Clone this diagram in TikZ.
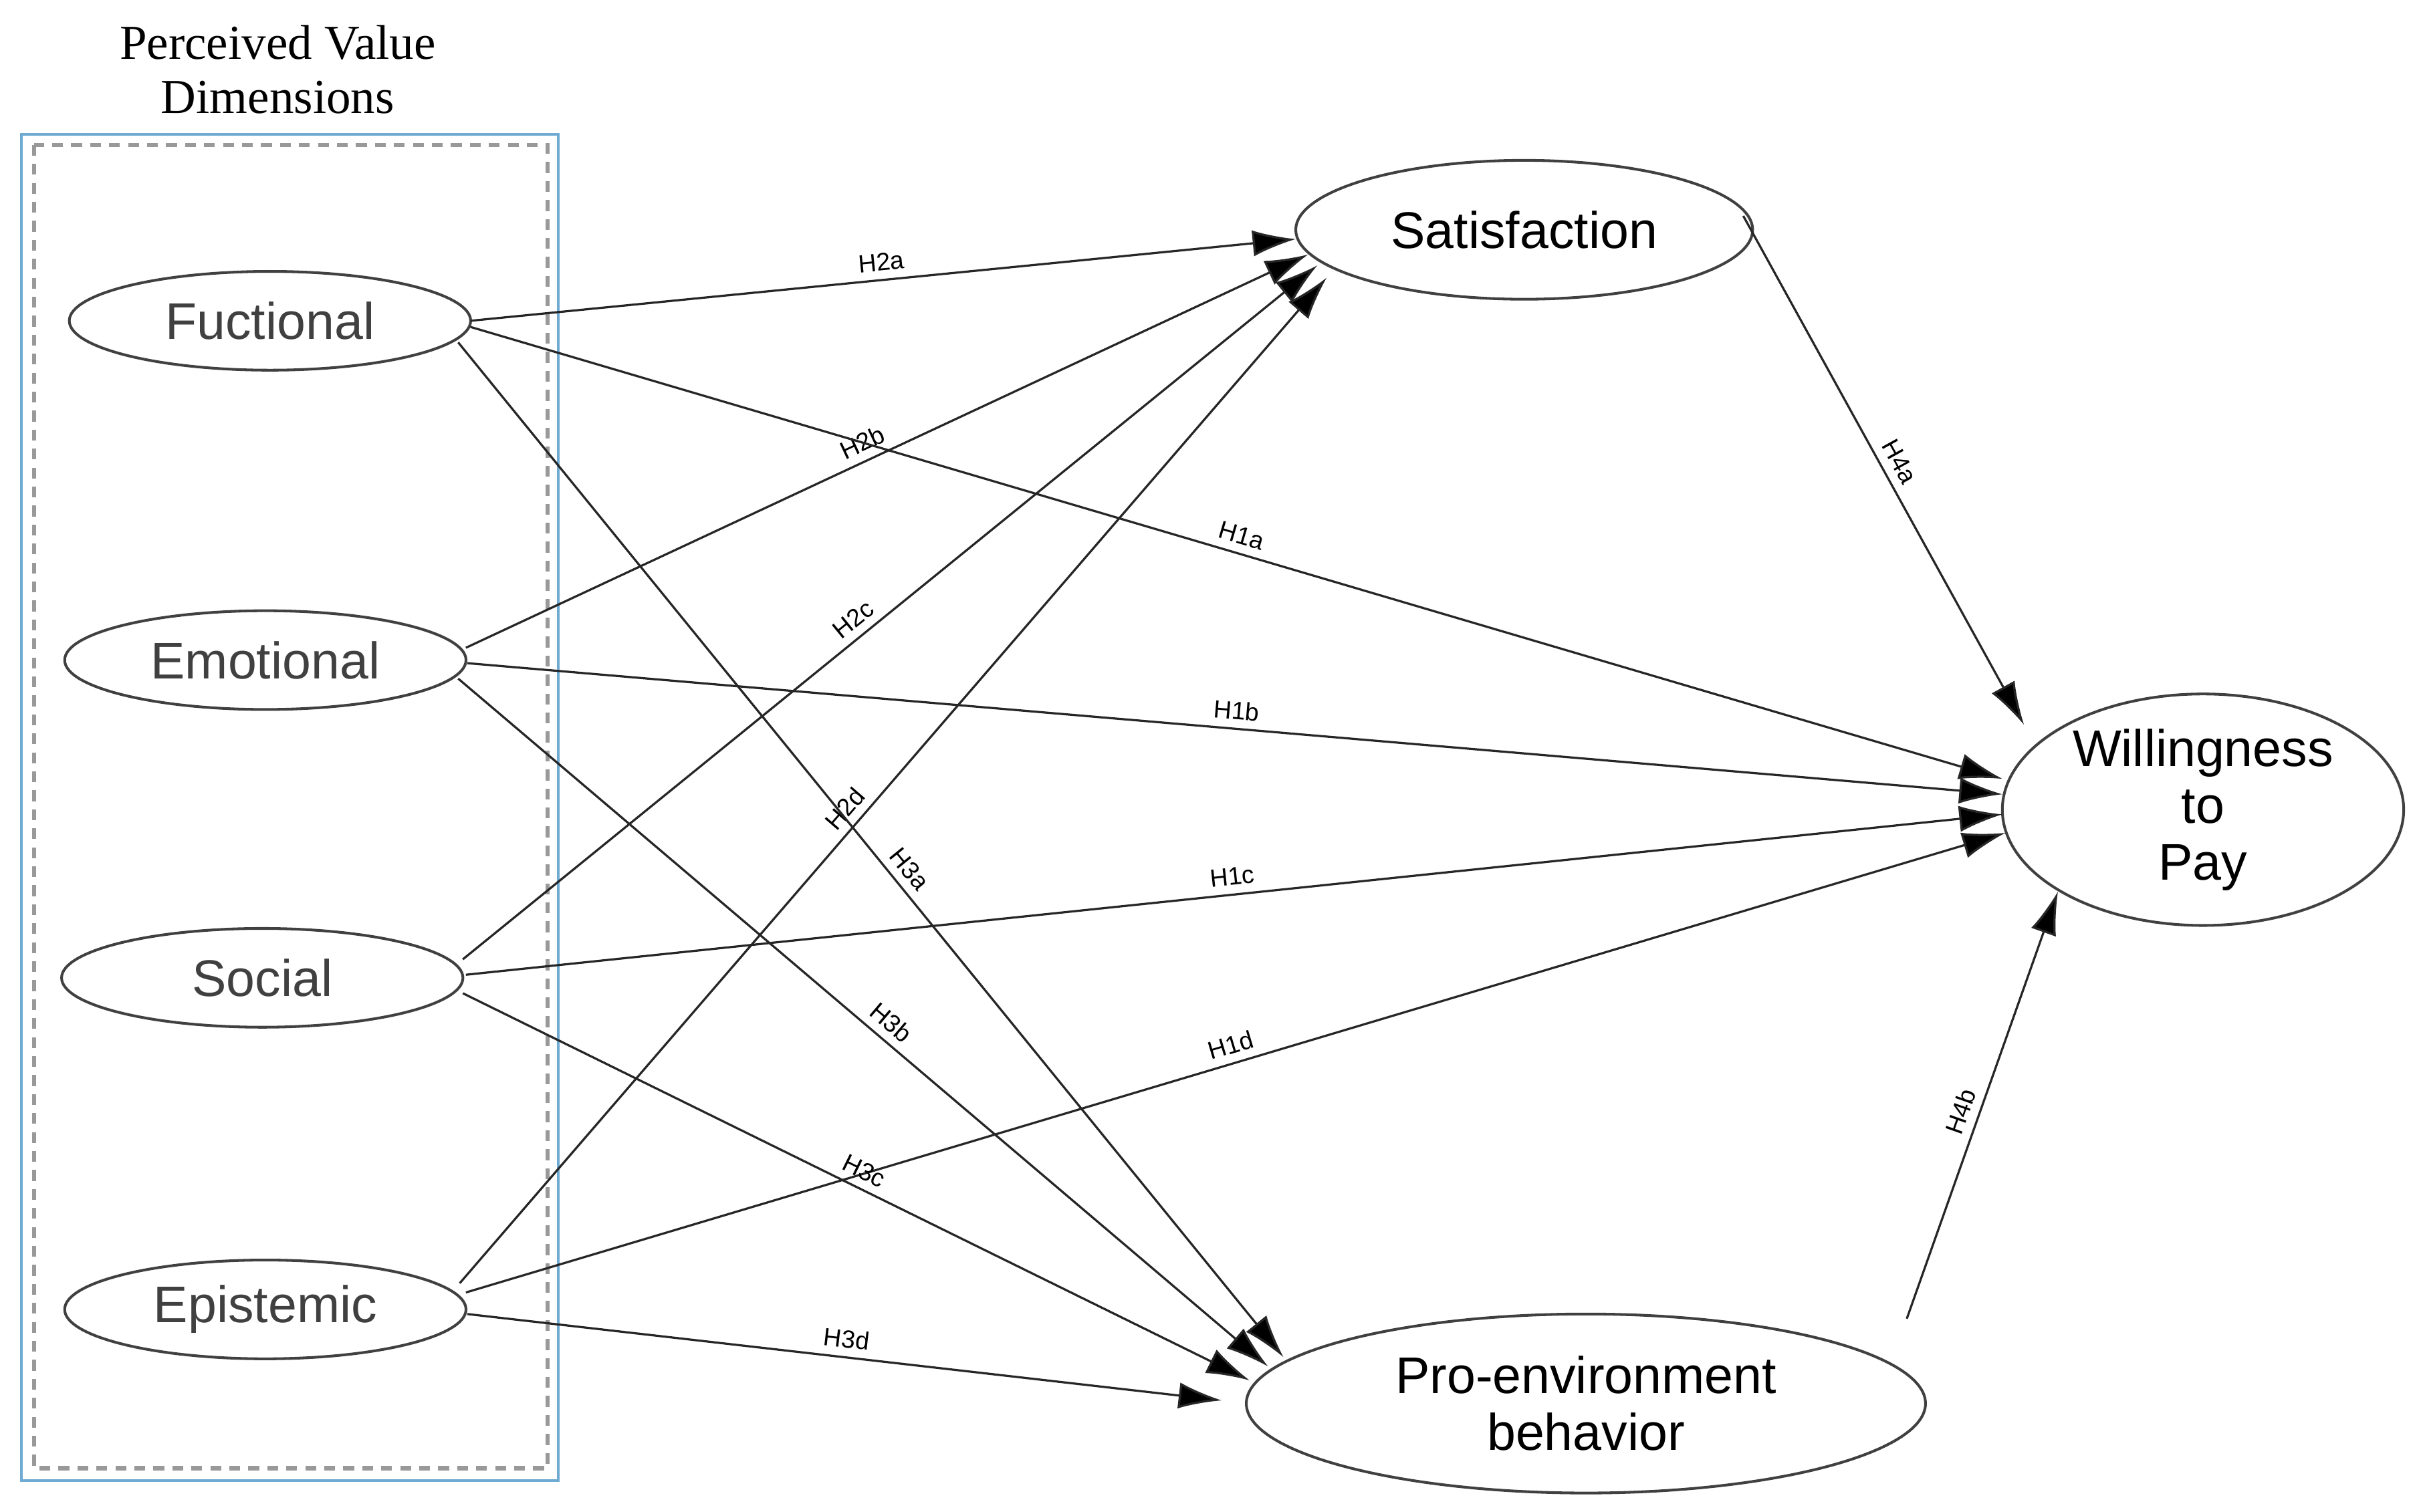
\documentclass[tikz,border=0pt]{standalone}
\usepackage{fontspec}
\setmainfont{Liberation Sans}
\newfontfamily\titlefont{Liberation Serif}
\usetikzlibrary{arrows.meta,shapes.geometric}
\begin{document}
\begin{tikzpicture}[x=0.01cm,y=-0.01cm,
  ell/.style={draw=black!75,line width=0.5pt,ellipse,inner sep=0pt,font=\fontsize{9.5}{11}\selectfont,text=black!75},
  con/.style={draw=black!85,line width=0.4pt,-{Latex[length=2.8mm,width=1.7mm,fill=black]}},
  lab/.style={font=\fontsize{4.6}{5}\selectfont,sloped,above,inner sep=1.5pt}]
\useasboundingbox (0,0) rectangle (1568,980);
\node[font=\titlefont\fontsize{9}{10}\selectfont,align=center] (title) at (180,45) {Perceived Value\\Dimensions};
\draw[draw={rgb,255:red,110;green,170;blue,210},line width=0.5pt] (14,87) rectangle (362,960);
\draw[draw=black!40,line width=0.8pt,dash pattern=on 2pt off 1.5pt] (22,94) rectangle (355,952);
\node[ell,minimum width=2.6cm,minimum height=0.64cm] (f) at (175,208) {Fuctional};
\node[ell,minimum width=2.6cm,minimum height=0.64cm] (e) at (172,428) {Emotional};
\node[ell,minimum width=2.6cm,minimum height=0.64cm] (s) at (170,634) {Social};
\node[ell,minimum width=2.6cm,minimum height=0.64cm] (p) at (172,849) {Epistemic};
\node[ell,text=black,minimum width=2.96cm,minimum height=0.9cm] (sat) at (988,149) {Satisfaction};
\node[ell,text=black,align=center,minimum width=2.6cm,minimum height=1.5cm,font=\fontsize{9.5}{10.5}\selectfont] (w) at (1428,525) {Willingness\\to\\Pay};
\node[ell,text=black,align=center,minimum width=4.4cm,minimum height=1.16cm,font=\fontsize{9.5}{10.5}\selectfont] (pro) at (1028,910) {Pro-environment\\behavior};
\coordinate (f1) at (305,208); \coordinate (f2) at (305,212); \coordinate (f3) at (297,222);
\coordinate (e1) at (302,420); \coordinate (e2) at (303,430); \coordinate (e3) at (297,440);
\coordinate (s1) at (300,622); \coordinate (s2) at (302,632); \coordinate (s3) at (300,644);
\coordinate (p1) at (298,832); \coordinate (p2) at (302,838); \coordinate (p3) at (303,852);
\coordinate (satA) at (840,155); \coordinate (satB) at (848,165); \coordinate (satC) at (854,172); \coordinate (satD) at (860,180);
\coordinate (wA) at (1298,505); \coordinate (wB) at (1298,515); \coordinate (wC) at (1298,528); \coordinate (wD) at (1300,540);
\coordinate (wE) at (1312,470); \coordinate (wF) at (1334,578);
\coordinate (proA) at (832,880); \coordinate (proB) at (822,886); \coordinate (proC) at (810,895); \coordinate (proD) at (792,908);
\coordinate (satO) at (1130,140); \coordinate (proO) at (1236,855);
\draw[con] (f1) -- node[lab,pos=0.5]{H2a} (satA);
\draw[con] (e1) -- node[lab,pos=0.48]{H2b} (satB);
\draw[con] (s1) -- node[lab,pos=0.47]{H2c} (satC);
\draw[con] (p1) -- node[lab,pos=0.46]{H2d} (satD);
\draw[con] (f2) -- node[lab,pos=0.5]{H1a} (wA);
\draw[con] (e2) -- node[lab,pos=0.5]{H1b} (wB);
\draw[con] (s2) -- node[lab,pos=0.5]{H1c} (wC);
\draw[con] (p2) -- node[lab,pos=0.5]{H1d} (wD);
\draw[con] (f3) -- node[lab,pos=0.53]{H3a} (proA);
\draw[con] (e3) -- node[lab,pos=0.52]{H3b} (proB);
\draw[con] (s3) -- node[lab,pos=0.5]{H3c} (proC);
\draw[con] (p3) -- node[lab,pos=0.5]{H3d} (proD);
\draw[con] (satO) -- node[lab,pos=0.5]{H4a} (wE);
\draw[con] (proO) -- node[lab,pos=0.47]{H4b} (wF);
\end{tikzpicture}
\end{document}
